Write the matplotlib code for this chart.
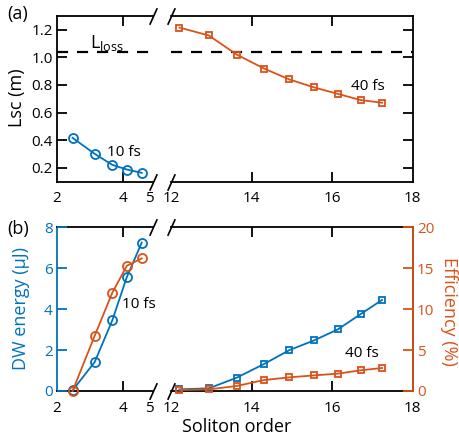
import matplotlib
matplotlib.use("Agg")
import matplotlib.pyplot as plt

plt.rcParams['font.family'] = ['Open Sans', 'DejaVu Sans']
plt.rcParams['mathtext.fontset'] = 'custom'
plt.rcParams['mathtext.rm'] = 'Open Sans'
plt.rcParams['mathtext.it'] = 'Open Sans'

# ---------------- data ----------------
n10 = [2.47, 3.14, 3.67, 4.11, 4.56]
lsc10 = [0.417, 0.301, 0.222, 0.188, 0.164]
dw10 = [0.03, 1.42, 3.45, 5.57, 7.25]
eff10 = [0.0, 6.76, 12.0, 15.3, 16.2]

n40 = [12.21, 12.94, 13.63, 14.31, 14.94, 15.56, 16.14, 16.71, 17.24]
lsc40 = [1.214, 1.157, 1.019, 0.918, 0.839, 0.781, 0.735, 0.690, 0.671]
dw40 = [0.08, 0.13, 0.65, 1.32, 2.0, 2.48, 3.01, 3.76, 4.45]
eff40 = [0.12, 0.2, 0.61, 1.34, 1.67, 1.91, 2.12, 2.53, 2.81]

lloss = 1.04

xlim_left = (2, 4.9)
xlim_right = (12, 18)
xticks_left = [2, 4, 4.78]
xticklabels_left = ['2', '4', '5']
xticks_right = [12, 14, 16, 18]
xticklabels_right = ['12', '14', '16', '18']
lsc_ticks = [0.2, 0.4, 0.6, 0.8, 1.0, 1.2]
lsc_ticklabels = ['0.2', '0.4', '0.6', '0.8', '1.0', '1.2']
dw_ticks = [0, 2, 4, 6, 8]
eff_ticks = [0, 5, 10, 15, 20]

BLUE = '#0072BD'
ORANGE = '#D95319'
TFS = 11
LFS = 13
SPW = 1.3
TL = 7

fig = plt.figure(figsize=(4.59, 4.42), dpi=100)

W, H = 459.0, 442.0
def pos(x0, x1, ytop, ybot):
    return [x0 / W, 1 - ybot / H, (x1 - x0) / W, (ybot - ytop) / H]

xl0, xl1 = 57, 153
xr0, xr1 = 171, 412.7

ax_tl = fig.add_axes(pos(xl0, xl1, 15.7, 181.7))
ax_tr = fig.add_axes(pos(xr0, xr1, 15.7, 181.7))
ax_bl = fig.add_axes(pos(xl0, xl1, 227.3, 391))
ax_br = fig.add_axes(pos(xr0, xr1, 227.3, 391))

for ax in (ax_tl, ax_tr, ax_bl, ax_br):
    for s in ax.spines.values():
        s.set_linewidth(SPW)
    ax.tick_params(direction='in', length=TL, width=SPW, labelsize=TFS)
    ax.tick_params(axis='x', pad=7, top=True)
    ax.tick_params(axis='y', pad=3)
    ax.set_facecolor('none')

for ax in (ax_tl, ax_bl):
    ax.set_xlim(*xlim_left)
    ax.set_xticks(xticks_left, xticklabels_left)
    ax.spines['right'].set_visible(False)
    t = ax.xaxis.get_major_ticks()
    t[0].tick1line.set_visible(False); t[0].tick2line.set_visible(False)
    t[2].tick1line.set_visible(False); t[2].tick2line.set_visible(False)
for ax in (ax_tr, ax_br):
    ax.set_xlim(*xlim_right)
    ax.set_xticks(xticks_right, xticklabels_right)
    ax.spines['left'].set_visible(False)
    t = ax.xaxis.get_major_ticks()
    t[0].tick1line.set_visible(False); t[0].tick2line.set_visible(False)
    t[-1].tick1line.set_visible(False); t[-1].tick2line.set_visible(False)

# ---------- top panel ----------
for ax in (ax_tl, ax_tr):
    ax.set_ylim(0.1, 1.3)
    ax.set_yticks(lsc_ticks, lsc_ticklabels)
    ax.axhline(lloss, color='black', lw=1.6, ls=(0, (5, 4)))
ax_tr.tick_params(axis='y', left=False, labelleft=False, right=True, labelright=False)

mk = dict(mfc='none', mew=1.3, lw=1.3, clip_on=False, zorder=4)
ax_tl.plot(n10, lsc10, 'o', ls='-', color=BLUE, ms=6.5, **mk)
ax_tr.plot(n40, lsc40, 's', ls='-', color=ORANGE, ms=5, **mk)

ax_tl.text(3.0, 1.07, r'L$_{\mathrm{loss}}$', fontsize=LFS, ha='left', va='baseline')
ax_tl.text(4.02, 0.313, '10 fs', fontsize=TFS, ha='center', va='center')
ax_tr.text(16.89, 0.79, '40 fs', fontsize=TFS, ha='center', va='center')

# ---------- bottom panel ----------
for ax in (ax_bl, ax_br):
    ax.set_ylim(0, 8)
    ax.set_yticks(dw_ticks)

tw_l = ax_bl.twinx()
tw_r = ax_br.twinx()
for tw, base in ((tw_l, ax_bl), (tw_r, ax_br)):
    tw.set_ylim(0, 20)
    tw.set_yticks(eff_ticks)
    for s in tw.spines.values():
        s.set_visible(False)
    tw.set_xlim(base.get_xlim())

ax_bl.spines['left'].set_color(BLUE)
ax_bl.tick_params(axis='y', colors=BLUE, left=True, right=False)
ax_bl.yaxis.set_zorder(3)
ax_br.tick_params(axis='y', left=False, labelleft=False, right=False, labelright=False)

tw_l.tick_params(axis='y', right=False, labelright=False, left=False, labelleft=False)
tw_r.spines['right'].set_visible(True)
tw_r.spines['right'].set_color(ORANGE)
tw_r.spines['right'].set_linewidth(SPW)
tw_r.tick_params(axis='y', direction='in', length=TL, width=SPW, colors=ORANGE,
                 labelsize=TFS, pad=3)
tw_r.yaxis.set_zorder(3)

ax_bl.plot(n10, dw10, 'o', ls='-', color=BLUE, ms=6.5, **mk)
tw_l.plot(n10, eff10, 'o', ls='-', color=ORANGE, ms=6.5, **mk)
ax_br.plot(n40, dw40, 's', ls='-', color=BLUE, ms=5, **mk)
tw_r.plot(n40, eff40, 's', ls='-', color=ORANGE, ms=5, **mk)

ax_bl.text(4.47, 4.25, '10 fs', fontsize=TFS, ha='center', va='center')
ax_br.text(16.73, 1.81, '40 fs', fontsize=TFS, ha='center', va='center')

# ---------- break marks ----------
slash = [(-0.45, -1), (0.45, 1)]
for ax, xb in ((ax_tl, 1), (ax_tr, 0), (ax_bl, 1), (ax_br, 0)):
    ax.plot([xb, xb], [0, 1], transform=ax.transAxes, marker=slash, ms=12,
            ls='none', color='black', mew=1.2, clip_on=False, zorder=5)

# ---------- labels ----------
fig.text(17 / W, 1 - 98 / H, 'Lsc (m)', rotation=90, fontsize=LFS, ha='center', va='center')
fig.text(21 / W, 1 - 309 / H, 'DW energy (\u03bcJ)', rotation=90, fontsize=LFS,
         ha='center', va='center', color=BLUE)
fig.text(449 / W, 1 - 311 / H, 'Efficiency (%)', rotation=270, fontsize=LFS,
         ha='center', va='center', color=ORANGE)
fig.text(237 / W, 1 - 427 / H, 'Soliton order', fontsize=LFS, ha='center', va='center')
fig.text(18 / W, 1 - 14 / H, '(a)', fontsize=LFS, ha='center', va='center')
fig.text(18 / W, 1 - 229 / H, '(b)', fontsize=LFS, ha='center', va='center')

fig.savefig('out.png', dpi=100)
